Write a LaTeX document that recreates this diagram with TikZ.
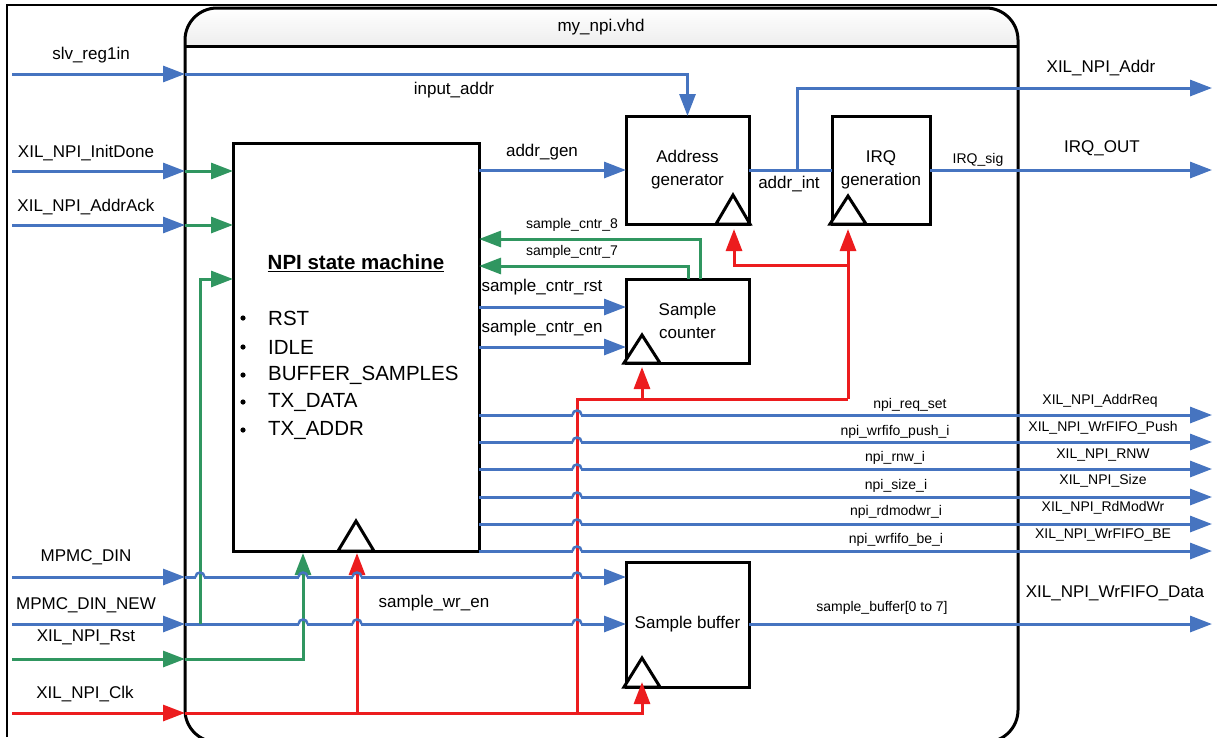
\documentclass[tikz,border=0pt]{standalone}
\usepackage{fontspec}
\setmainfont{Liberation Sans}
\usetikzlibrary{arrows.meta,calc}
\definecolor{sigblue}{RGB}{70,116,192}
\definecolor{siggreen}{RGB}{48,150,96}
\definecolor{sigred}{RGB}{236,28,30}
\begin{document}
\begin{tikzpicture}[x=1pt,y=-1pt,
  tip/.style={-{Triangle[length=22pt,width=16pt]}},
  bl/.style={draw=sigblue,line width=3pt},
  gr/.style={draw=siggreen,line width=3pt},
  rd/.style={draw=sigred,line width=3pt},
  blk/.style={draw=black,line width=3pt,fill=white,anchor=north west,inner sep=0pt,outer sep=0pt,align=center,font=\fontsize{17}{23}\selectfont},
  clk/.style={draw=black,line width=3pt,fill=white,line join=miter},
  lab/.style={font=\fontsize{17}{20}\selectfont,inner sep=0pt},
  sml/.style={font=\fontsize{14}{16}\selectfont,inner sep=0pt},
  big/.style={font=\fontsize{20.5}{24}\selectfont,inner sep=0pt,anchor=west},
  eraser/.style={draw=white,line width=4pt},
]
\useasboundingbox (0,0) rectangle (1217,737);
% outer thin frame
\draw[line width=1.5pt] (7,737) -- (7,5) -- (1217,5);
% main block
\begin{scope}
\clip[rounded corners=32pt] (185,742) rectangle (1018,8);
\fill[top color=white,bottom color=gray!14] (185,8) rectangle (1018,46);
\end{scope}
\draw[line width=3pt] (185,46) -- (1018,46);
\draw[line width=3pt,rounded corners=32pt] (185,742) rectangle (1018,8);
\node[lab] (title) at (601,27) {my\_npi.vhd};

% boxes
\node[blk,minimum width=246pt,minimum height=408pt] (sm) at (233,143) {};
\node[blk,minimum width=123pt,minimum height=108pt] (ag) at (626,116) {Address\\generator};
\node[blk,minimum width=98pt,minimum height=108pt] (irq) at (832,116) {IRQ\\generation};
\node[blk,minimum width=123pt,minimum height=84pt] (sc) at (626,279) {Sample\\counter};
\node[blk,minimum width=123pt,minimum height=125pt] (sb) at (626,562) {Sample buffer};
% clock symbols
\draw[clk] (338,551) -- (356,521) -- (374,551) -- cycle;
\draw[clk] (716,224) -- (733,195) -- (750,224) -- cycle;
\draw[clk] (830,224) -- (848,196) -- (866,224) -- cycle;
\draw[clk] (624,363) -- (642,335) -- (660,363) -- cycle;
\draw[clk] (624,687) -- (642,658) -- (660,687) -- cycle;

% state machine text
\node[big,anchor=center] (smt) at (356,263) {\bfseries\underline{NPI state machine}};
\foreach \n/\t/\y in {a/RST/318,b/IDLE/347,c/BUFFER\_SAMPLES/375,d/TX\_DATA/402,e/TX\_ADDR/430}{
  \fill (243,\y) circle (2.6pt);
  \node[big] (st\n) at (268,\y) {\t};
}

% coordinates
\coordinate (fl) at (185,0);
\coordinate (ox) at (1212,0);
\coordinate (i-slv) at (12,74);
\coordinate (i-init) at (12,171);
\coordinate (i-ack) at (12,225);
\coordinate (i-din) at (12,577);
\coordinate (i-new) at (12,624);
\coordinate (i-rst) at (12,659);
\coordinate (i-clk) at (12,713);

% ---------- blue signals ----------
\draw[bl,tip] (i-slv) -- (i-slv -| fl);
\draw[bl,tip] (i-slv -| fl) -| (ag.north);
\draw[bl,tip] (i-init) -- (i-init -| fl);
\draw[bl,tip] (i-ack) -- (i-ack -| fl);
\draw[bl,tip] (i-din) -- (i-din -| fl);
\draw[bl,tip] (i-new) -- (i-new -| fl);
\coordinate (sbd) at (626,577);
\coordinate (sbn) at (626,624);
\draw[bl,tip] (i-din -| fl) -- (sbd);
\draw[bl,tip] (i-new -| fl) -- (sbn);
\draw[bl,tip] (sm.east |- ag.west) -- (ag.west);
\draw[bl] (ag.east) -- (irq.west);
\coordinate (jai) at (797,170);
\coordinate (oaddr) at (1212,88);
\draw[bl,tip] (jai) |- (oaddr);
\draw[bl,tip] (irq.east) -- (irq.east -| ox);
\coordinate (scr) at (626,307);
\coordinate (sce) at (626,347);
\draw[bl,tip] (scr -| sm.east) -- (scr);
\draw[bl,tip] (sce -| sm.east) -- (sce);
\foreach \i/\y in {1/415,2/442,3/469,4/497,5/524,6/551}{
  \coordinate (n\i) at (479,\y);
  \draw[bl,tip] (n\i) -- (n\i -| ox);
}
\coordinate (sbo) at (749,624);
\draw[bl,tip] (sbo) -- (sbo -| ox);

% erase under hops
\foreach \x/\y in {200/577,303/577,357/577,577/577,303/624,357/624,577/624,577/415,577/442,577/469,577/497,577/524,577/551}{
  \draw[eraser] (\x-4,\y) -- (\x+4,\y);
}

% ---------- green signals ----------
\draw[gr,tip] (i-rst) -- (i-rst -| fl);
\draw[gr,tip] (i-init -| fl) -- (i-init -| sm.west);
\draw[gr,tip] (i-ack -| fl) -- (i-ack -| sm.west);
\coordinate (jnew) at (200,624);
\coordinate (sml3) at (233,279);
\draw[gr,tip] (jnew) |- (sml3);
\coordinate (smb1) at (303,553);
\draw[gr,tip] (i-rst -| fl) -| (smb1);
\coordinate (s8a) at (700,279);
\coordinate (s8b) at (479,239);
\coordinate (s7a) at (688,279);
\coordinate (s7b) at (479,266);
\draw[gr,tip] (s8a) |- (s8b);
\draw[gr,tip] (s7a) |- (s7b);

% ---------- red clock ----------
\draw[rd,tip] (i-clk) -- (i-clk -| fl);
\coordinate (sbclk) at (642,682);
\draw[rd,tip] (i-clk -| fl) -| (sbclk);
\coordinate (r1) at (357,713);
\coordinate (smb2) at (357,553);
\draw[rd,tip] (r1) -- (smb2);
\coordinate (r2) at (577,713);
\coordinate (r3) at (848,399);
\coordinate (irqclk) at (848,229);
\draw[rd] (r2) |- (r3);
\draw[rd,tip] (r3) -- (irqclk);
\coordinate (r4) at (848,265);
\coordinate (agclk) at (734,229);
\draw[rd,tip] (r4) -| (agclk);
\coordinate (r5) at (642,399);
\coordinate (scclk) at (642,367);
\draw[rd,tip] (r5) -- (scclk);

% hops (blue bumps)
\foreach \x/\y in {200/577,303/577,357/577,577/577,303/624,357/624,577/624,577/415,577/442,577/469,577/497,577/524,577/551}{
  \draw[draw=sigblue,line width=2.5pt] (\x-4.5,\y) .. controls (\x-4.5,\y-6) and (\x+4.5,\y-6) .. (\x+4.5,\y);
}

% ---------- labels ----------
\node[lab] (l1) at (91,55) {slv\_reg1in};
\node[lab] (l2) at (86,153) {XIL\_NPI\_InitDone};
\node[lab] (l3) at (86,207) {XIL\_NPI\_AddrAck};
\node[lab] (l4) at (86,557) {MPMC\_DIN};
\node[lab] (l5) at (86,605) {MPMC\_DIN\_NEW};
\node[lab] (l6) at (86,637) {XIL\_NPI\_Rst};
\node[lab] (l7) at (85,694) {XIL\_NPI\_Clk};
\node[lab] (l8) at (454,90) {input\_addr};
\node[lab] (l9) at (542,152) {addr\_gen};
\node[lab] (l10) at (789,184) {addr\_int};
\node[sml] (l11) at (978,160) {IRQ\_sig};
\node[lab] (l12) at (1101,68) {XIL\_NPI\_Addr};
\node[lab] (l13) at (1102,148) {IRQ\_OUT};
\node[sml] (l14) at (572,225) {sample\_cntr\_8};
\node[sml] (l15) at (572,252) {sample\_cntr\_7};
\node[lab] (l16) at (542,287) {sample\_cntr\_rst};
\node[lab] (l17) at (542,328) {sample\_cntr\_en};
\node[lab] (l18) at (434,603) {sample\_wr\_en};
\node[sml] (l19) at (882,608) {sample\_buffer[0 to 7]};
\node[lab] (l20) at (1115,593) {XIL\_NPI\_WrFIFO\_Data};
\node[sml] (m1) at (910,405) {npi\_req\_set};
\node[sml] (m2) at (895,432) {npi\_wrfifo\_push\_i};
\node[sml] (m3) at (895,458) {npi\_rnw\_i};
\node[sml] (m4) at (896,486) {npi\_size\_i};
\node[sml] (m5) at (896,512) {npi\_rdmodwr\_i};
\node[sml] (m6) at (896,540) {npi\_wrfifo\_be\_i};
\node[sml] (x1) at (1100,401) {XIL\_NPI\_AddrReq};
\node[sml] (x2) at (1103,428) {XIL\_NPI\_WrFIFO\_Push};
\node[sml] (x3) at (1103,455) {XIL\_NPI\_RNW};
\node[sml] (x4) at (1103,481) {XIL\_NPI\_Size};
\node[sml] (x5) at (1103,508) {XIL\_NPI\_RdModWr};
\node[sml] (x6) at (1103,535) {XIL\_NPI\_WrFIFO\_BE};
\end{tikzpicture}
\end{document}
